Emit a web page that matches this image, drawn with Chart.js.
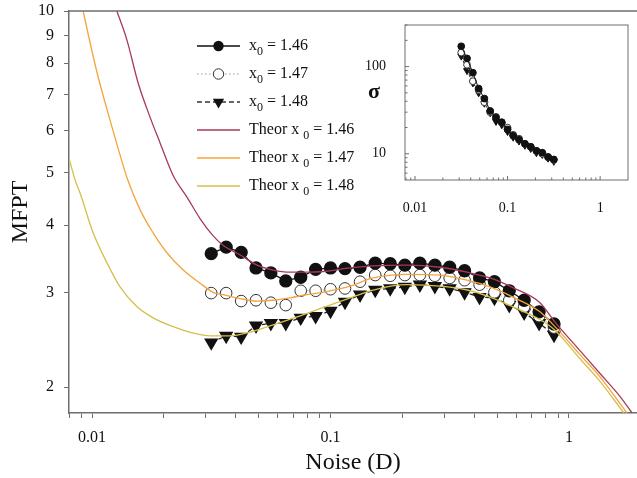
<!DOCTYPE html>
<html>
<head>
<meta charset="utf-8">
<title>MFPT vs noise</title>
<script src="https://cdn.jsdelivr.net/npm/chart.js@4.4.1/dist/chart.umd.min.js"></script>
<style>
  html, body { margin: 0; padding: 0; background: #fff; }
  #wrap { position: relative; width: 637px; height: 478px; }
  #main { position: absolute; left: 0; top: 0; }
  #inset { position: absolute; left: 340px; top: 10px; }
</style>
</head>
<body>
<div id="wrap">
  <canvas id="main" width="637" height="478"></canvas>
  <canvas id="inset" width="297" height="210"></canvas>
</div>
<script>
// Simulated points: noise intensity D and mean first passage time
let noise = [0.0316, 0.0365, 0.0422, 0.0487, 0.0562, 0.0649, 0.075, 0.0866, 0.1, 0.115, 0.133, 0.154,
	0.178, 0.205, 0.237, 0.274, 0.316, 0.365, 0.422, 0.487, 0.562, 0.649, 0.75, 0.866];

let mfpt146 = [3.54, 3.64, 3.56, 3.33, 3.26, 3.15, 3.20, 3.31, 3.33, 3.32, 3.34, 3.40,
	3.39, 3.37, 3.40, 3.37, 3.34, 3.29, 3.19, 3.14, 3.02, 2.90, 2.76, 2.62];
let mfpt147 = [2.99, 2.99, 2.89, 2.90, 2.87, 2.84, 3.02, 3.02, 3.04, 3.05, 3.14, 3.23,
	3.22, 3.23, 3.23, 3.22, 3.19, 3.16, 3.10, 3.00, 2.90, 2.82, 2.71, 2.58];
let mfpt148 = [2.42, 2.49, 2.48, 2.60, 2.63, 2.63, 2.69, 2.71, 2.77, 2.88, 2.97, 3.03,
	3.05, 3.07, 3.10, 3.08, 3.05, 3.00, 2.94, 2.93, 2.84, 2.75, 2.63, 2.50];

// Theoretical curves
let theorX146 = [0.0127, 0.0140, 0.0156, 0.0175, 0.0193, 0.0219, 0.0250, 0.0284, 0.0322, 0.0354, 0.0418,
	0.0492, 0.0574, 0.0676, 0.0797, 0.093, 0.121, 0.151, 0.209, 0.288, 0.374, 0.467, 0.582, 0.756,
	0.874, 1.11, 1.35, 1.64, 1.84];
let theorY146 = [10, 8.83, 7.35, 6.35, 5.68, 4.94, 4.51, 4.11, 3.82, 3.67, 3.52,
	3.37, 3.30, 3.27, 3.27, 3.28, 3.33, 3.36, 3.37, 3.34, 3.27, 3.19, 3.06, 2.87,
	2.64, 2.34, 2.12, 1.92, 1.79];

let theorX147 = [0.00917, 0.00981, 0.0105, 0.01156, 0.01273, 0.01403, 0.0159, 0.01803, 0.02064, 0.0241,
	0.02836, 0.03216, 0.0354, 0.0418, 0.0492, 0.0574, 0.0676, 0.0797, 0.093, 0.121, 0.151, 0.209,
	0.288, 0.374, 0.467, 0.582, 0.756, 0.874, 1.11, 1.35, 1.75];
let theorY147 = [10, 8.72, 7.67, 6.55, 5.64, 4.89, 4.27, 3.87, 3.55, 3.30,
	3.12, 3.00, 2.97, 2.92, 2.89, 2.90, 2.93, 2.97, 3.00, 3.08, 3.19, 3.24,
	3.23, 3.16, 3.07, 2.94, 2.76, 2.59, 2.30, 2.09, 1.79];

let theorX148 = [0.00801, 0.00849, 0.0089, 0.0101, 0.01156, 0.0131, 0.01544, 0.01803, 0.02186, 0.02652,
	0.03125, 0.0379, 0.046, 0.0574, 0.0724, 0.093, 0.121, 0.151, 0.209, 0.288, 0.374, 0.467,
	0.582, 0.756, 0.874, 1.11, 1.35, 1.70];
let theorY148 = [5.31, 4.85, 4.59, 3.87, 3.40, 3.07, 2.82, 2.69, 2.59, 2.52,
	2.49, 2.49, 2.53, 2.61, 2.70, 2.81, 2.93, 3.03, 3.10, 3.08, 3.03, 2.94,
	2.82, 2.67, 2.55, 2.26, 2.05, 1.79];

// Inset: sigma for the first 17 noise levels
let sigma146 = [171, 124, 85, 56, 43, 31, 26, 23, 19, 16.1, 14.5, 13.0, 12.0, 10.8, 10.3, 9.2, 8.6];
let sigma147 = [145, 105, 68, 54, 39, 30, 26.5, 22.7, 19.9, 16.5, 14.9, 13.0, 12.0, 10.8, 10.0, 9.1, 8.5];
let sigma148 = [132, 90, 65, 50, 38, 29.5, 23.5, 21.5, 18.0, 15.5, 14.0, 12.5, 11.5, 10.3, 9.8, 8.9, 8.2];

// Ticks
let x0Labels = ["1.46", "1.47", "1.48"];
let xTicks = [0.008, 0.009, 0.01, 0.02, 0.03, 0.04, 0.05, 0.06, 0.07, 0.08, 0.09,
	0.1, 0.2, 0.3, 0.4, 0.5, 0.6, 0.7, 0.8, 0.9, 1];
let xLabelled = [0.01, 0.1, 1];
let yTicks = [2, 3, 4, 5, 6, 7, 8, 9, 10];
let insetYTicks = [6, 7, 8, 9, 10, 20, 30, 40, 50, 60, 70, 80, 90, 100, 200, 300];
let insetYLabelled = [10, 100];

const serif = '"Liberation Serif", "Times New Roman", serif';
const axisGray = "#6e6e6e";
const ink = "#111";
const theorColors = ["#a83a55", "#f4a43a", "#d5c04a"];

const toPoints = (xs, ys) => ys.map((y, i) => ({ x: xs[i], y: y }));

/* ==============================
Legend with subscripts
=================================*/

let legendRows = [
	{ pre: "x", post: " = " + x0Labels[0], color: ink, width: 1.3, dash: [], marker: "dot" },
	{ pre: "x", post: " = " + x0Labels[1], color: "#999", width: 1, dash: [1.5, 2.5], marker: "open" },
	{ pre: "x", post: " = " + x0Labels[2], color: "#333", width: 1.3, dash: [5, 3], marker: "triangle" },
	{ pre: "Theor x ", post: " = " + x0Labels[0], color: theorColors[0], width: 1.3, dash: [] },
	{ pre: "Theor x ", post: " = " + x0Labels[1], color: theorColors[1], width: 1.3, dash: [] },
	{ pre: "Theor x ", post: " = " + x0Labels[2], color: theorColors[2], width: 1.3, dash: [] }
];

function drawMarker(ctx, kind, x, y, r) {
	ctx.setLineDash([]);
	ctx.beginPath();
	if (kind === "triangle") {
		ctx.moveTo(x - r * 0.87, y - r * 0.5);
		ctx.lineTo(x + r * 0.87, y - r * 0.5);
		ctx.lineTo(x, y + r);
		ctx.closePath();
		ctx.fillStyle = ink;
		ctx.fill();
	} else {
		ctx.arc(x, y, r, 0, Math.PI * 2);
		ctx.fillStyle = kind === "open" ? "#fff" : ink;
		ctx.fill();
		if (kind === "open") {
			ctx.strokeStyle = "#333";
			ctx.lineWidth = 1;
			ctx.stroke();
		}
	}
}

const mainDecor = {
	id: "mainDecor",
	afterDraw(chart) {
		const { ctx, chartArea: a } = chart;
		ctx.save();
		// top frame line
		ctx.strokeStyle = axisGray;
		ctx.lineWidth = 1.5;
		ctx.beginPath();
		ctx.moveTo(a.left, a.top);
		ctx.lineTo(a.right, a.top);
		ctx.stroke();

		legendRows.forEach((row, i) => {
			const y = 46 + i * 28;
			ctx.strokeStyle = row.color;
			ctx.lineWidth = row.width;
			ctx.setLineDash(row.dash);
			ctx.beginPath();
			ctx.moveTo(197, y);
			ctx.lineTo(240, y);
			ctx.stroke();
			if (row.marker) drawMarker(ctx, row.marker, 218.5, y, row.marker === "triangle" ? 6.5 : 5.2);

			ctx.fillStyle = ink;
			ctx.textBaseline = "middle";
			ctx.textAlign = "left";
			let tx = 249;
			ctx.font = "16px " + serif;
			ctx.fillText(row.pre, tx, y);
			tx += ctx.measureText(row.pre).width;
			ctx.font = "12px " + serif;
			ctx.fillText("0", tx, y + 6);
			tx += ctx.measureText("0").width;
			ctx.font = "16px " + serif;
			ctx.fillText(row.post, tx, y);
		});
		ctx.restore();
	}
};

/* ==============================
Main chart
=================================*/

let theorSet = (xs, ys, color) => ({
	data: toPoints(xs, ys),
	borderColor: color,
	borderWidth: 1.3,
	pointRadius: 0,
	cubicInterpolationMode: "monotone",
	order: 0
});

new Chart(document.getElementById("main"), {
	type: "line",
	data: {
		datasets: [
			theorSet(theorX146, theorY146, theorColors[0]),
			theorSet(theorX147, theorY147, theorColors[1]),
			theorSet(theorX148, theorY148, theorColors[2]),
			{
				data: toPoints(noise, mfpt146),
				borderColor: ink,
				borderWidth: 1.3,
				pointRadius: 6,
				pointBackgroundColor: ink,
				pointBorderColor: ink,
				order: 1
			},
			{
				data: toPoints(noise, mfpt147),
				borderColor: "#aaa",
				borderWidth: 1,
				borderDash: [1.5, 2.5],
				pointRadius: 5.8,
				pointBackgroundColor: "#fff",
				pointBorderColor: "#333",
				pointBorderWidth: 1,
				order: 1
			},
			{
				data: toPoints(noise, mfpt148),
				borderColor: "#222",
				borderWidth: 1.3,
				borderDash: [5, 3],
				pointStyle: "triangle",
				pointRotation: 180,
				pointRadius: 7,
				pointBackgroundColor: ink,
				pointBorderColor: ink,
				order: 1
			}
		]
	},
	options: {
		responsive: false,
		animation: false,
		events: [],
		layout: { autoPadding: false, padding: { top: 11, right: 0, left: 0, bottom: 0 } },
		plugins: { legend: { display: false }, tooltip: { enabled: false } },
		scales: {
			x: {
				type: "logarithmic",
				min: 0.008,
				max: 1.93,
				afterBuildTicks: s => { s.ticks = xTicks.map(v => ({ value: v })); },
				afterFit: s => { s.height = 65; s.paddingLeft = 0; s.paddingRight = 0; },
				border: { color: axisGray, width: 1.5 },
				grid: { drawOnChartArea: false, color: axisGray, tickLength: 5 },
				ticks: {
					autoSkip: false, maxRotation: 0, minRotation: 0, padding: 10, color: ink,
					font: { family: serif, size: 16 },
					callback: v => xLabelled.includes(v) ? String(v) : ""
				},
				title: { display: true, text: "Noise (D)", color: ink, font: { family: serif, size: 24 }, padding: { top: 0, bottom: 1 } }
			},
			y: {
				type: "logarithmic",
				min: 1.79,
				max: 10,
				afterBuildTicks: s => { s.ticks = yTicks.map(v => ({ value: v })); },
				afterFit: s => { s.width = 69; s.paddingTop = 0; s.paddingBottom = 0; },
				border: { color: axisGray, width: 1.5 },
				grid: { drawOnChartArea: false, color: axisGray, tickLength: 5 },
				ticks: {
					autoSkip: false, padding: 10, color: ink,
					font: { family: serif, size: 16 },
					callback: v => String(v)
				},
				title: { display: true, text: "MFPT", color: ink, font: { family: serif, size: 24 }, padding: { top: 6, bottom: 0 } }
			}
		}
	},
	plugins: [mainDecor]
});

/* ==============================
Inset: sigma vs noise
=================================*/

const insetDecor = {
	id: "insetDecor",
	afterDraw(chart) {
		const { ctx, chartArea: a, scales } = chart;
		ctx.save();
		ctx.strokeStyle = axisGray;
		ctx.lineWidth = 1;
		ctx.strokeRect(a.left, a.top, a.right - a.left, a.bottom - a.top);
		ctx.beginPath();
		scales.x.ticks.forEach(t => {
			const px = scales.x.getPixelForValue(t.value);
			const len = xLabelled.includes(t.value) ? 4 : 2.5;
			ctx.moveTo(px, a.bottom);
			ctx.lineTo(px, a.bottom - len);
		});
		scales.y.ticks.forEach(t => {
			const py = scales.y.getPixelForValue(t.value);
			const len = insetYLabelled.includes(t.value) ? 4 : 2.5;
			ctx.moveTo(a.left, py);
			ctx.lineTo(a.left + len, py);
		});
		ctx.stroke();

		ctx.fillStyle = ink;
		ctx.font = "bold 22px " + serif;
		ctx.textAlign = "center";
		ctx.textBaseline = "middle";
		ctx.fillText("σ", 34, 82);
		ctx.restore();
	}
};

let insetNoise = noise.slice(0, sigma146.length);

new Chart(document.getElementById("inset"), {
	type: "line",
	data: {
		datasets: [
			{
				data: toPoints(insetNoise, sigma146),
				borderColor: ink,
				borderWidth: 1,
				pointRadius: 3.4,
				pointBackgroundColor: ink,
				pointBorderColor: ink
			},
			{
				data: toPoints(insetNoise, sigma147),
				borderColor: "#999",
				borderWidth: 1,
				borderDash: [1, 2],
				pointRadius: 3.4,
				pointBackgroundColor: "#fff",
				pointBorderColor: "#333",
				pointBorderWidth: 1
			},
			{
				data: toPoints(insetNoise, sigma148),
				borderColor: "#222",
				borderWidth: 1,
				borderDash: [3, 2],
				pointStyle: "triangle",
				pointRotation: 180,
				pointRadius: 4,
				pointBackgroundColor: ink,
				pointBorderColor: ink
			}
		]
	},
	options: {
		responsive: false,
		animation: false,
		events: [],
		layout: { autoPadding: false, padding: { top: 15, right: 9, left: 0, bottom: 0 } },
		plugins: { legend: { display: false }, tooltip: { enabled: false } },
		scales: {
			x: {
				type: "logarithmic",
				min: 0.0078,
				max: 2.0,
				afterBuildTicks: s => { s.ticks = xTicks.map(v => ({ value: v })); },
				afterFit: s => { s.height = 40; s.paddingLeft = 0; s.paddingRight = 0; },
				border: { display: false },
				grid: { display: false },
				ticks: {
					autoSkip: false, maxRotation: 0, minRotation: 0, padding: 12, color: ink,
					font: { family: serif, size: 14 },
					callback: v => xLabelled.includes(v) ? String(v) : ""
				}
			},
			y: {
				type: "logarithmic",
				min: 5,
				max: 300,
				afterBuildTicks: s => { s.ticks = insetYTicks.map(v => ({ value: v })); },
				afterFit: s => { s.width = 65; s.paddingTop = 0; s.paddingBottom = 0; },
				border: { display: false },
				grid: { display: false },
				ticks: {
					autoSkip: false, padding: 11, color: ink,
					font: { family: serif, size: 14 },
					callback: v => insetYLabelled.includes(v) ? String(v) : ""
				}
			}
		}
	},
	plugins: [insetDecor]
});
</script>
</body>
</html>
